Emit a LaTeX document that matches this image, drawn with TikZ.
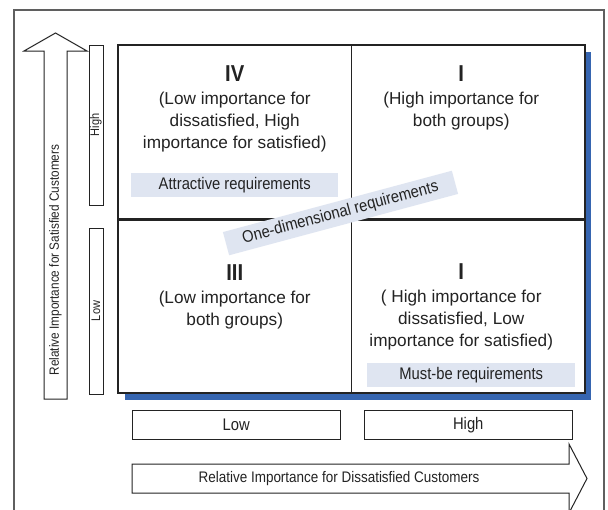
\documentclass[tikz,border=0pt]{standalone}
\usepackage{fontspec}
\setmainfont{Liberation Sans}
\newfontfamily\narrowfont{Liberation Sans}[FakeStretch=0.88]
\usepackage{tikz}
\usetikzlibrary{positioning,calc}
\usepackage{xcolor}
\definecolor{shadowblue}{RGB}{54,101,176}
\definecolor{tagblue}{RGB}{223,229,241}
\definecolor{inkgray}{RGB}{35,35,35}
\definecolor{framegray}{RGB}{95,95,95}
\newcommand{\nfont}[1]{\fontsize{#1}{#1}\narrowfont}

\begin{document}
\begin{tikzpicture}[x=1pt,y=-1pt,line join=miter]
\tikzstyle{quad}=[draw=inkgray,line width=1pt,fill=white,minimum width=233.5pt,minimum height=174pt,inner sep=0pt,outer sep=0pt]
\tikzstyle{numeral}=[font=\nfont{23}\bfseries,text=inkgray,inner sep=0pt]
\tikzstyle{qtext}=[font=\fontsize{17.2}{22}\selectfont,text=inkgray,align=center,inner sep=0pt]
\tikzstyle{tag}=[fill=tagblue,font=\nfont{16.8},text=inkgray,minimum height=24pt,inner sep=0pt]
\tikzstyle{scalebox}=[draw=inkgray,line width=1pt,inner sep=0pt,text=inkgray]
\tikzstyle{axisarrow}=[draw=inkgray,line width=1pt,fill=white]

\useasboundingbox (0,0) rectangle (608,509);
\draw[framegray,line width=1.3pt] (14,520) -- (14,10) -- (604,10) -- (604,520);

% quadrant grid with blue shadow
\fill[shadowblue] (124.5,51.5) rectangle (591,399.5);
\node[quad] (qIV) at (234.75,132) {};
\node[quad,right=0pt of qIV] (qI) {};
\node[quad,below=0pt of qIV] (qIII) {};
\node[quad,right=0pt of qIII] (qIb) {};
\draw[inkgray,line width=1.6pt] (qIV.north west) rectangle (qIb.south east);
\draw[inkgray,line width=3pt] (qIII.north west) -- (qIb.north east);

\node[numeral,below=20.5pt of qIV.north] (nIV) {IV};
\node[qtext,below=10.5pt of nIV] (tIV) {(Low importance for\\dissatisfied, High\\importance for satisfied)};
\node[numeral,below=20.5pt of qI.north,xshift=-7pt] (nI) {I};
\node[qtext,below=10.5pt of nI] (tI) {(High importance for\\both groups)};
\node[numeral,below=45.5pt of qIII.north] (nIII) {III};
\node[qtext,below=10.5pt of nIII] (tIII) {(Low importance for\\both groups)};
\node[numeral,below=44.5pt of qIb.north,xshift=-7pt] (nIb) {I};
\node[qtext,below=10.5pt of nIb] (tIb) {( High importance for\\dissatisfied, Low\\importance for satisfied)};

% requirement tags
\node[tag,minimum width=207pt,above=22pt of qIV.south] (attr) {Attractive requirements};
\node[tag,minimum width=208pt,above=6pt of qIb.south,xshift=3pt] (must) {Must-be requirements};
\node[tag,minimum width=237pt,rotate=15] (onedim) at (340.5,213) {One-dimensional requirements};

% scale boxes
\node[scalebox,rotate=90,minimum width=160pt,minimum height=14pt,font=\nfont{12.5}] (yhigh) at (96,125) {High};
\node[scalebox,rotate=90,minimum width=166pt,minimum height=14pt,font=\nfont{12.5}] (ylow) at (96,311) {Low};
\node[scalebox,minimum width=208pt,minimum height=29pt,font=\nfont{16.8},below=17pt of qIII,xshift=1.5pt] (xlow) {Low};
\node[scalebox,minimum width=208pt,minimum height=29pt,font=\nfont{16.8},below=17pt of qIb] (xhigh) {High};

% axis arrows
\draw[axisarrow] (44,399) -- (44,51) -- (24,51) -- (55.5,33) -- (87,51) -- (67,51) -- (67,399) -- cycle;
\node[rotate=90,font=\nfont{13.4},text=inkgray] (ytitle) at (55.5,260) {Relative Importance for Satisfied Customers};
\draw[axisarrow] (132,464) -- (569,464) -- (569,444) -- (587,478.5) -- (569,513) -- (569,493) -- (132,493) -- cycle;
\node[font=\nfont{15.3},text=inkgray] (xtitle) at (339,478.5) {Relative Importance for Dissatisfied Customers};
\end{tikzpicture}
\end{document}
